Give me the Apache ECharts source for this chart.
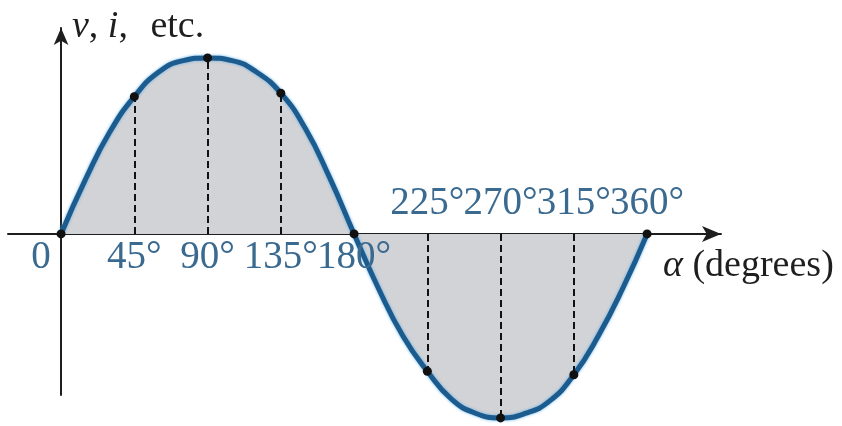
<!DOCTYPE html>
<html>
<head>
<meta charset="utf-8">
<script src="https://cdn.jsdelivr.net/npm/echarts@6/dist/echarts.min.js"></script>
<style>
  html, body { margin: 0; padding: 0; background: #ffffff; }
  #chart { width: 842px; height: 426px; }
</style>
</head>
<body>
<div id="chart"></div>
<script>
// One full cycle of the waveform, sampled every 15 degrees
const angles = [0, 15, 30, 45, 60, 75, 90, 105, 120, 135, 150, 165, 180,
                195, 210, 225, 240, 255, 270, 285, 300, 315, 330, 345, 360];
const amplitude = [0, 0.31, 0.58, 0.78, 0.92, 0.985, 1.0, 0.985, 0.92, 0.80, 0.60, 0.32, 0,
                   -0.31, -0.58, -0.78, -0.94, -1.02, -1.045, -1.02, -0.95, -0.80, -0.58, -0.31, 0];

// Marked angles: dot on the curve, dashed drop line and degree label
const markAngles = [0, 45, 90, 135, 180, 225, 270, 315, 360];
const markValues = [0, 0.78, 1.0, 0.80, 0, -0.78, -1.045, -0.80, 0];
const markLabels = ['0', '45°', '90°', '135°', '180°', '225°', '270°', '315°', '360°'];

const axisTitleX = 'α (degrees)';
const axisTitleY = ['v', 'i', 'etc.'];

const serif = '"Liberation Serif", "Times New Roman", serif';
const labelBlue = '#3b6a90';
const ink = '#1e1e1e';

const curve = angles.map((a, i) => [a, amplitude[i]]);
const dots = markAngles.map((a, i) => [a, markValues[i]]);

// dashed drop lines from the axis to the curve (not at the zero crossings)
const drops = [];
markAngles.forEach((a, i) => {
  if (markValues[i] !== 0) {
    drops.push({ coords: [[a, 0], [a, markValues[i]]] });
  }
});

const labelPoints = markAngles.map((a, i) => {
  const below = a <= 180;
  return {
    value: [a, 0],
    label: {
      show: true,
      formatter: markLabels[i],
      position: below ? 'bottom' : 'top',
      distance: below ? 4 : 11,
      offset: a === 0 ? [-20, 0] : [0, 0]
    }
  };
});

const chart = echarts.init(document.getElementById('chart'), null, { renderer: 'canvas' });

chart.setOption({
  animation: false,
  backgroundColor: '#ffffff',
  grid: { left: 8, right: 121, top: 28, bottom: 31, containLabel: false },
  xAxis: {
    type: 'value',
    min: -32.6,
    max: 405.4,
    axisLine: {
      show: true,
      onZero: true,
      symbol: ['none', 'arrow'],
      symbolSize: [12, 19],
      lineStyle: { color: ink, width: 2 }
    },
    axisTick: { show: false },
    axisLabel: { show: false },
    splitLine: { show: false }
  },
  yAxis: {
    type: 'value',
    min: -0.915,
    max: 1.17,
    axisLine: {
      show: true,
      onZero: true,
      symbol: ['none', 'arrow'],
      symbolSize: [11, 17],
      lineStyle: { color: ink, width: 2 }
    },
    axisTick: { show: false },
    axisLabel: { show: false },
    splitLine: { show: false }
  },
  series: [
    {
      type: 'line',
      data: curve,
      smooth: 0.5,
      clip: false,
      showSymbol: false,
      z: 3,
      lineStyle: {
        color: '#1b5b8e',
        width: 5,
        shadowColor: 'rgba(80,165,230,0.9)',
        shadowBlur: 3
      },
      areaStyle: { color: '#d2d3d6', opacity: 1, origin: 0 }
    },
    {
      type: 'lines',
      coordinateSystem: 'cartesian2d',
      data: drops,
      clip: false,
      silent: true,
      z: 4,
      lineStyle: { color: '#111111', width: 2, type: [7, 4], opacity: 1 }
    },
    {
      type: 'scatter',
      data: dots,
      clip: false,
      symbol: 'circle',
      symbolSize: 9,
      itemStyle: { color: '#111111', opacity: 1 },
      z: 5
    },
    {
      type: 'scatter',
      data: labelPoints,
      clip: false,
      symbolSize: 0,
      silent: true,
      z: 6,
      itemStyle: { opacity: 1 },
      label: {
        color: labelBlue,
        fontFamily: serif,
        fontSize: 39
      }
    }
  ],
  graphic: [
    {
      type: 'text',
      x: 663,
      y: 266,
      style: {
        text: '{a|α} (degrees)',
        verticalAlign: 'middle',
        font: '38px ' + serif,
        fill: ink,
        rich: {
          a: { fontStyle: 'italic', fontFamily: serif, fontSize: 38, fill: ink, color: ink }
        }
      }
    },
    {
      type: 'text',
      x: 72,
      y: 27,
      style: {
        text: '{it|' + axisTitleY[0] + '}{p|, }{it|' + axisTitleY[1] + '}{p|,}{g|   }' + axisTitleY[2],
        verticalAlign: 'middle',
        font: '38px ' + serif,
        fill: ink,
        rich: {
          it: { fontStyle: 'italic', fontFamily: serif, fontSize: 38, fill: ink, color: ink },
          p: { fontFamily: serif, fontSize: 38, fill: ink, color: ink },
          g: { fontFamily: serif, fontSize: 30, fill: ink, color: ink }
        }
      }
    }
  ]
});
</script>
</body>
</html>
